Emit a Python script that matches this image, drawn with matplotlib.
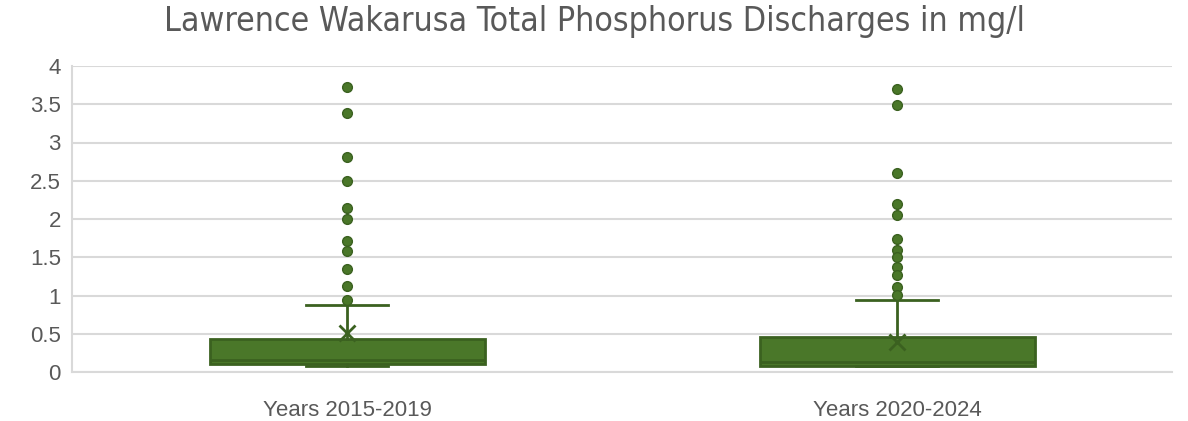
import matplotlib

matplotlib.use("Agg")

import matplotlib.pyplot as plt
from matplotlib import font_manager


CATEGORIES = ["Years 2015-2019", "Years 2020-2024"]

# five-number summaries (mg/l)
WHISKER_LOW = [0.08, 0.08]
Q1 = [0.105, 0.08]
MEDIAN = [0.157, 0.135]
Q3 = [0.43, 0.455]
WHISKER_HIGH = [0.87, 0.945]
MEAN = [0.51, 0.39]

OUTLIERS_2015_2019 = [3.72, 3.39, 2.81, 2.50, 2.15, 2.00, 1.71, 1.58, 1.34, 1.13, 0.94]
OUTLIERS_2020_2024 = [3.70, 3.49, 2.60, 2.19, 2.05, 1.735, 1.60, 1.50, 1.37, 1.27, 1.11, 1.006]

Y_TICKS = [0, 0.5, 1, 1.5, 2, 2.5, 3, 3.5, 4]
Y_TICK_LABELS = ["0", "0.5", "1", "1.5", "2", "2.5", "3", "3.5", "4"]

FILL = "#4a7729"
EDGE = "#3b6120"
TEXT = "#595959"
GRID = "#d9d9d9"


def pick_title_font():
    """Use a narrow face for the title when one is installed."""
    names = {f.name: f for f in font_manager.fontManager.ttflist}
    for name in ["Liberation Sans Narrow", "DejaVu Sans Condensed"]:
        if name in names:
            return dict(family=name)
    for f in font_manager.fontManager.ttflist:
        if f.name == "DejaVu Sans" and "ondensed" in f.fname and f.weight in (400, "normal") \
                and f.style == "normal":
            return dict(fname=f.fname)
    return None


def main():
    plt.rcParams["font.family"] = ["Liberation Sans", "DejaVu Sans"]

    outliers = [OUTLIERS_2015_2019, OUTLIERS_2020_2024]
    stats = []
    for i, label in enumerate(CATEGORIES):
        stats.append({
            "label": label,
            "whislo": WHISKER_LOW[i],
            "q1": Q1[i],
            "med": MEDIAN[i],
            "q3": Q3[i],
            "whishi": WHISKER_HIGH[i],
            "mean": MEAN[i],
            "fliers": outliers[i],
        })

    fig = plt.figure(figsize=(11.88, 4.21), dpi=100)
    ax = fig.add_axes([72 / 1188, 1 - 372 / 421, 1100 / 1188, 306 / 421])

    ax.set_axisbelow(True)
    ax.yaxis.grid(True, color=GRID, linewidth=1.5)

    ax.bxp(
        stats,
        positions=[1, 2],
        widths=0.5,
        patch_artist=True,
        showmeans=True,
        boxprops=dict(facecolor=FILL, edgecolor=EDGE, linewidth=2),
        medianprops=dict(color=EDGE, linewidth=2),
        whiskerprops=dict(color=EDGE, linewidth=2),
        capprops=dict(color=EDGE, linewidth=2),
        capwidths=0.15,
        meanprops=dict(marker="x", markersize=12, markeredgecolor=EDGE,
                       markeredgewidth=2),
        flierprops=dict(marker="o", markersize=7, markerfacecolor=FILL,
                        markeredgecolor=EDGE, markeredgewidth=1),
        zorder=3,
    )

    ax.set_xlim(0.5, 2.5)
    ax.set_ylim(0, 4)
    ax.set_yticks(Y_TICKS)
    ax.set_yticklabels(Y_TICK_LABELS)
    ax.set_xticks([1, 2])
    ax.set_xticklabels(CATEGORIES)

    for side in ["top", "right"]:
        ax.spines[side].set_visible(False)
    ax.spines["left"].set_color(GRID)
    ax.spines["left"].set_linewidth(1.5)
    ax.spines["bottom"].set_color(GRID)
    ax.spines["bottom"].set_linewidth(1.5)

    ax.tick_params(axis="both", length=0, colors=TEXT, labelsize=16)
    ax.tick_params(axis="y", pad=8)
    ax.tick_params(axis="x", pad=20)

    title_font = pick_title_font()
    if title_font is None:
        title_kw = dict(family=["Liberation Sans", "DejaVu Sans"], fontsize=23)
    elif "fname" in title_font:
        title_kw = dict(fontproperties=font_manager.FontProperties(
            fname=title_font["fname"], size=24.3))
    else:
        title_kw = dict(family=title_font["family"], fontsize=24.3)

    fig.text(
        0.5,
        1 - 22 / 421,
        "Lawrence Wakarusa Total Phosphorus Discharges in mg/l",
        ha="center",
        va="center",
        color=TEXT,
        **title_kw,
    )

    fig.savefig("out.png", dpi=100)
    plt.close(fig)


if __name__ == "__main__":
    main()
